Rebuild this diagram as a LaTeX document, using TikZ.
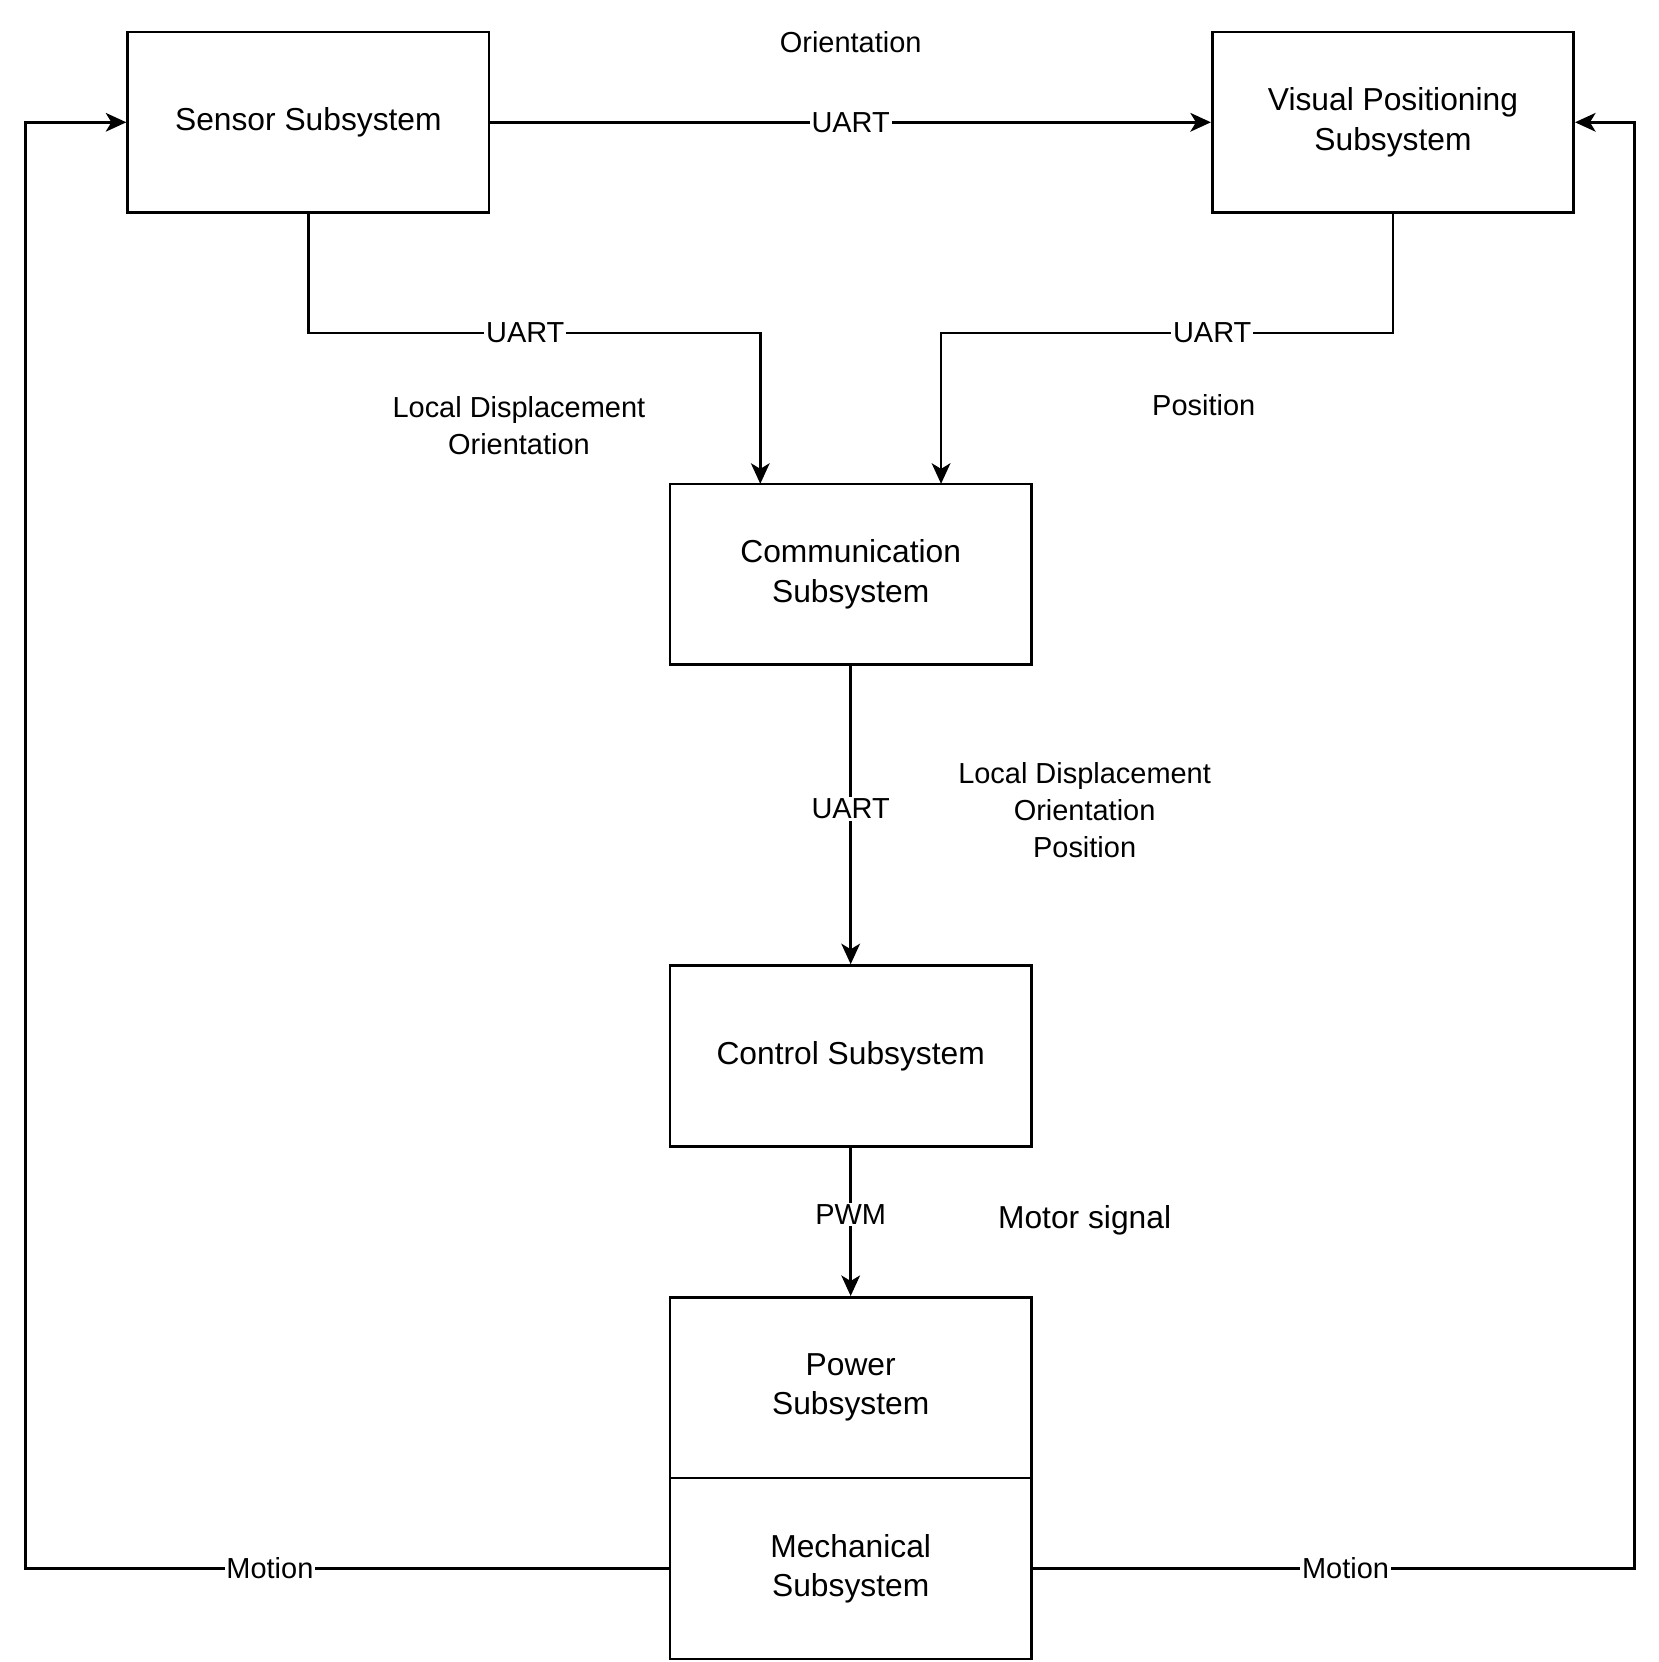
\documentclass[tikz,border=0pt]{standalone}
\usepackage{fontspec}
\setmainfont{Liberation Sans}
\usetikzlibrary{arrows.meta}

\tikzset{
	block/.style={rectangle,draw,line width=1.4pt,minimum width=6.8cm,minimum height=3.4cm,align=center,font=\fontsize{17}{21}\selectfont},
	link/.style={line width=1.4pt,-{Stealth[length=11pt,width=10pt,inset=3pt]}},
	wire/.style={line width=1.4pt},
	tag/.style={fill=white,inner sep=1pt,font=\fontsize{15.5}{19}\selectfont},
	note/.style={align=center,font=\fontsize{15.5}{20}\selectfont}
}

\begin{document}
\begin{tikzpicture}[x=0.02cm,y=-0.02cm]
		\useasboundingbox (0,0) rectangle (1560,1563);
%		\draw[help lines] (0,0) grid[step=100] (1560,1563);
		\node[block] (sensor) at (290,115) {Sensor Subsystem};
		\node[block] (visual) at (1310,115) {Visual Positioning\\Subsystem};
		\node[block] (comm) at (800,540) {Communication\\Subsystem};
		\node[block] (control) at (800,993) {Control Subsystem};
		\node[block] (power) at (800,1305) {Power\\Subsystem};
		\node[block] (mech) at (800,1475) {Mechanical\\Subsystem};

		\path (290,313) coordinate (sensor_bend);
		\path (715,313) coordinate (comm_in_l);
		\path (715,455) coordinate (comm_top_l);
		\path (1310,313) coordinate (visual_bend);
		\path (885,313) coordinate (comm_in_r);
		\path (885,455) coordinate (comm_top_r);
		\path (24,1475) coordinate (motion_lb);
		\path (24,115) coordinate (motion_lt);
		\path (1537,1475) coordinate (motion_rb);
		\path (1537,115) coordinate (motion_rt);

		\draw[link] (sensor) -- node[tag] {UART} (visual);
		\draw[link] (sensor) -- (sensor_bend) -- node[tag,pos=0.48] {UART} (comm_in_l) -- (comm_top_l);
		\draw[link] (visual) -- (visual_bend) -- node[tag,pos=0.4] {UART} (comm_in_r) -- (comm_top_r);
		\draw[link] (comm) -- node[tag,pos=0.48] {UART} (control);
		\draw[link] (control) -- node[tag,pos=0.45] {PWM} (power);
		\draw[link] (mech.west) -- node[tag,pos=0.62] {Motion} (motion_lb) -- (motion_lt) -- (sensor.west);
		\draw[link] (mech.east) -- node[tag,pos=0.52] {Motion} (motion_rb) -- (motion_rt) -- (visual.east);

		\node[note] (n_orient) at (800,40) {Orientation};
		\node[note] (n_local) at (488,400) {Local Displacement\\Orientation};
		\node[note] (n_pos) at (1132,381) {Position};
		\node[note] (n_all) at (1020,762) {Local Displacement\\Orientation\\Position};
		\node[note,font=\fontsize{17}{21}\selectfont] (n_motor) at (1020,1148) {Motor signal};

	\end{tikzpicture}
\end{document}
